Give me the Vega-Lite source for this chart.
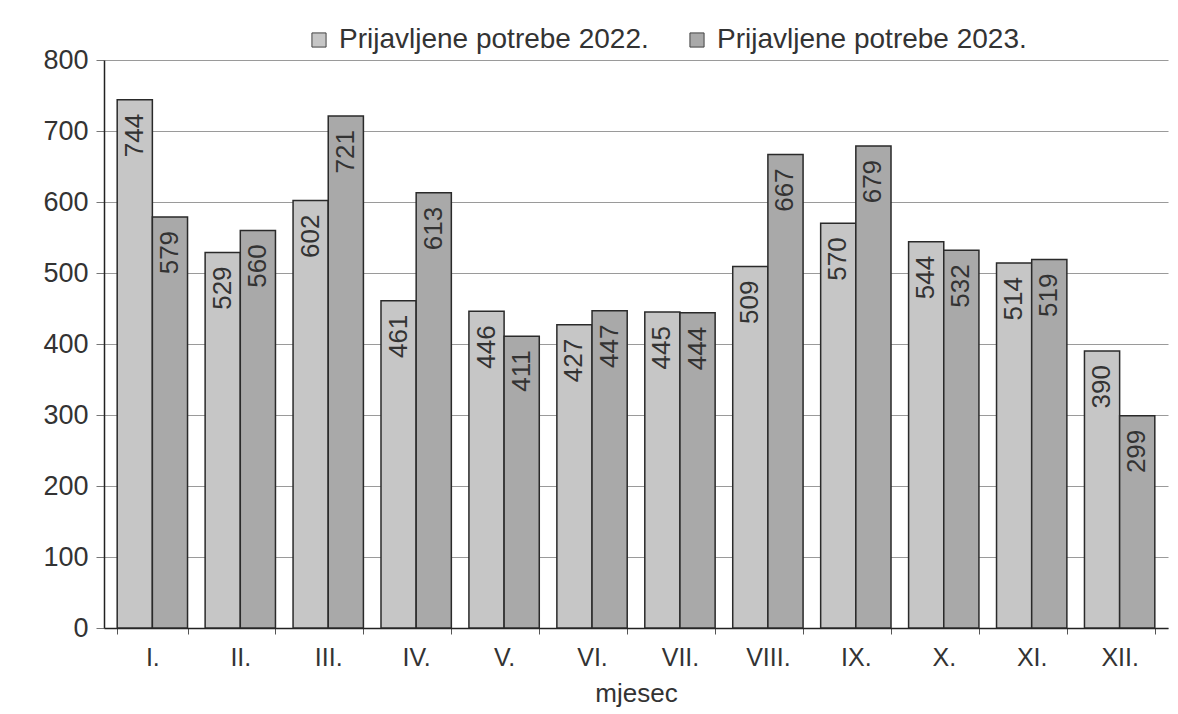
{
  "$schema": "https://vega.github.io/schema/vega-lite/v6.json",
  "autosize": "none",
  "width": 1064,
  "height": 568,
  "padding": {"left": 104, "top": 60, "right": 10, "bottom": 86},
  "background": "white",
  "config": {
    "view": {"stroke": null},
    "font": "Liberation Sans"
  },
  "data": {
    "values": [
      {"mjesec": "I.", "serija": "Prijavljene potrebe 2022.", "v": 744},
      {"mjesec": "I.", "serija": "Prijavljene potrebe 2023.", "v": 579},
      {"mjesec": "II.", "serija": "Prijavljene potrebe 2022.", "v": 529},
      {"mjesec": "II.", "serija": "Prijavljene potrebe 2023.", "v": 560},
      {"mjesec": "III.", "serija": "Prijavljene potrebe 2022.", "v": 602},
      {"mjesec": "III.", "serija": "Prijavljene potrebe 2023.", "v": 721},
      {"mjesec": "IV.", "serija": "Prijavljene potrebe 2022.", "v": 461},
      {"mjesec": "IV.", "serija": "Prijavljene potrebe 2023.", "v": 613},
      {"mjesec": "V.", "serija": "Prijavljene potrebe 2022.", "v": 446},
      {"mjesec": "V.", "serija": "Prijavljene potrebe 2023.", "v": 411},
      {"mjesec": "VI.", "serija": "Prijavljene potrebe 2022.", "v": 427},
      {"mjesec": "VI.", "serija": "Prijavljene potrebe 2023.", "v": 447},
      {"mjesec": "VII.", "serija": "Prijavljene potrebe 2022.", "v": 445},
      {"mjesec": "VII.", "serija": "Prijavljene potrebe 2023.", "v": 444},
      {"mjesec": "VIII.", "serija": "Prijavljene potrebe 2022.", "v": 509},
      {"mjesec": "VIII.", "serija": "Prijavljene potrebe 2023.", "v": 667},
      {"mjesec": "IX.", "serija": "Prijavljene potrebe 2022.", "v": 570},
      {"mjesec": "IX.", "serija": "Prijavljene potrebe 2023.", "v": 679},
      {"mjesec": "X.", "serija": "Prijavljene potrebe 2022.", "v": 544},
      {"mjesec": "X.", "serija": "Prijavljene potrebe 2023.", "v": 532},
      {"mjesec": "XI.", "serija": "Prijavljene potrebe 2022.", "v": 514},
      {"mjesec": "XI.", "serija": "Prijavljene potrebe 2023.", "v": 519},
      {"mjesec": "XII.", "serija": "Prijavljene potrebe 2022.", "v": 390},
      {"mjesec": "XII.", "serija": "Prijavljene potrebe 2023.", "v": 299}
    ]
  },
  "encoding": {
    "x": {
      "field": "mjesec",
      "type": "nominal",
      "sort": null,
      "scale": {"paddingInner": 0.2, "paddingOuter": 0.15},
      "axis": {
        "title": "mjesec",
        "titleFont": "Liberation Sans",
        "titleFontSize": 26,
        "titleFontWeight": "normal",
        "titleColor": "#333333",
        "titlePadding": 10,
        "labelAngle": 0,
        "labelFontSize": 25,
        "labelColor": "#333333",
        "labelPadding": 11,
        "tickBand": "extent",
        "tickSize": 6,
        "tickColor": "#555555",
        "domainColor": "#222222",
        "domainWidth": 1.5,
        "grid": false
      }
    },
    "xOffset": {"field": "serija", "type": "nominal"},
    "y": {
      "field": "v",
      "type": "quantitative",
      "scale": {"domain": [0, 800], "nice": false},
      "axis": {
        "title": null,
        "values": [0, 100, 200, 300, 400, 500, 600, 700, 800],
        "labelFontSize": 27,
        "labelColor": "#333333",
        "labelPadding": 8,
        "tickSize": 8,
        "tickColor": "#777777",
        "gridColor": "#9a9a9a",
        "gridWidth": 1.2,
        "domainColor": "#222222",
        "domainWidth": 1.5
      }
    }
  },
  "layer": [
    {
      "mark": {"type": "bar", "stroke": "#2a2a2a", "strokeWidth": 1.5},
      "encoding": {
        "color": {
          "field": "serija",
          "type": "nominal",
          "scale": {
            "domain": ["Prijavljene potrebe 2022.", "Prijavljene potrebe 2023."],
            "range": ["#c6c6c6", "#a9a9a9"]
          },
          "legend": {
            "title": null,
            "orient": "none",
            "legendX": 201,
            "legendY": -34,
            "direction": "horizontal",
            "symbolType": "square",
            "symbolSize": 200,
            "symbolStrokeColor": "#444444",
            "symbolStrokeWidth": 1,
            "labelFontSize": 28,
            "labelColor": "#333333",
            "labelLimit": 0,
            "columnPadding": 34,
            "labelOffset": 6
          }
        }
      }
    },
    {
      "mark": {
        "type": "text",
        "angle": 270,
        "align": "right",
        "baseline": "middle",
        "dx": -14,
        "fontSize": 26,
        "color": "#333333"
      },
      "encoding": {
        "text": {"field": "v", "type": "quantitative"}
      }
    }
  ]
}
